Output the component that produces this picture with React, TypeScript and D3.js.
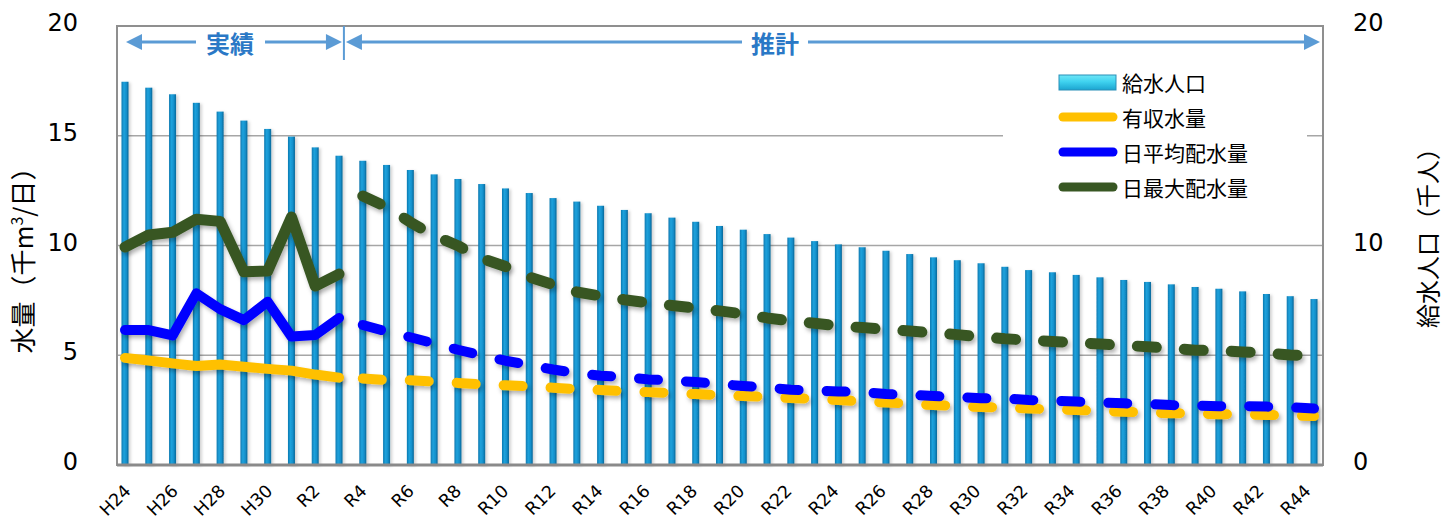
import React from "react";
import * as d3 from "d3";

const categories = [
  "H24","H25","H26","H27","H28","H29","H30","R1","R2","R3",
  "R4","R5","R6","R7","R8","R9","R10","R11","R12","R13",
  "R14","R15","R16","R17","R18","R19","R20","R21","R22","R23",
  "R24","R25","R26","R27","R28","R29","R30","R31","R32","R33",
  "R34","R35","R36","R37","R38","R39","R40","R41","R42","R43","R44",
];
const actualCount = 10;
const tickLabels = [
  "H24","H26","H28","H30","R2","R4","R6","R8","R10","R12","R14","R16","R18",
  "R20","R22","R24","R26","R28","R30","R32","R34","R36","R38","R40","R42","R44",
];

// 給水人口 (千人)
const population = [
  17.46, 17.19, 16.89, 16.5, 16.1, 15.69, 15.31, 14.96, 14.47, 14.09,
  13.86, 13.67, 13.44, 13.24, 13.03, 12.8, 12.6, 12.39, 12.16, 12.0,
  11.81, 11.62, 11.47, 11.27, 11.08, 10.89, 10.72, 10.52, 10.36, 10.2,
  10.05, 9.92, 9.76, 9.61, 9.46, 9.33, 9.19, 9.03, 8.88, 8.78,
  8.66, 8.55, 8.43, 8.34, 8.23, 8.11, 8.03, 7.91, 7.79, 7.69, 7.56,
];
// 有収水量
const revenueWater = [
  4.88, 4.76, 4.63, 4.51, 4.58, 4.48, 4.38, 4.3, 4.12, 3.98,
  3.94, 3.87, 3.86, 3.8, 3.74, 3.67, 3.63, 3.58, 3.52, 3.46,
  3.42, 3.36, 3.32, 3.28, 3.23, 3.19, 3.14, 3.1, 3.05, 3.02,
  2.96, 2.89, 2.85, 2.79, 2.73, 2.69, 2.64, 2.63, 2.57, 2.54,
  2.51, 2.46, 2.43, 2.39, 2.36, 2.35, 2.31, 2.31, 2.28, 2.26, 2.23,
];
// 日平均配水量
const avgDistribution = [
  6.15, 6.15, 5.9, 7.82, 7.1, 6.6, 7.44, 5.85, 5.92, 6.7,
  6.38, 6.08, 5.82, 5.54, 5.25, 4.99, 4.75, 4.56, 4.35, 4.18,
  4.07, 4.01, 3.9, 3.85, 3.78, 3.69, 3.6, 3.53, 3.43, 3.39,
  3.35, 3.33, 3.23, 3.2, 3.14, 3.1, 3.04, 3.03, 2.96, 2.93,
  2.89, 2.85, 2.81, 2.78, 2.73, 2.71, 2.68, 2.69, 2.66, 2.63, 2.57,
];
// 日最大配水量
const maxDistribution = [
  9.93, 10.48, 10.6, 11.2, 11.1, 8.8, 8.84, 11.3, 8.15, 8.7,
  12.25, 11.76, 11.06, 10.45, 9.99, 9.41, 9.04, 8.56, 8.22, 7.88,
  7.7, 7.53, 7.39, 7.27, 7.15, 7.02, 6.88, 6.7, 6.56, 6.46,
  6.34, 6.26, 6.18, 6.1, 6.02, 5.94, 5.84, 5.75, 5.69, 5.63,
  5.58, 5.51, 5.45, 5.39, 5.32, 5.23, 5.21, 5.15, 5.1, 5.01, 4.97,
];

const leftTicks = [0, 5, 10, 15, 20];
const rightTicks = [0, 10, 20];
const gridTicks = [5, 10, 15];

const W = 1453;
const H = 523;
const plot = { left: 117, right: 1323, top: 26, bottom: 465 };

const JP = "'Noto Sans CJK JP', 'Noto Sans', sans-serif";
const NUM = "'DejaVu Sans', Verdana, sans-serif";

const lineSeries = [
  { name: "有収水量", values: revenueWater, color: "#FFC000", width: 10 },
  { name: "日平均配水量", values: avgDistribution, color: "#0000FF", width: 10 },
  { name: "日最大配水量", values: maxDistribution, color: "#385723", width: 11 },
];

export default function App() {
  const x = d3.scalePoint<string>().domain(categories).range([125, 1314]);
  const xLabel = d3.scalePoint<string>().domain(categories).range([132, 1312]);
  const y = d3.scaleLinear().domain([0, 20]).range([plot.bottom, plot.top]);
  const yR = d3.scaleLinear().domain([0, 20]).range([plot.bottom, plot.top]);

  const splitPaths = (vals: number[]) => {
    const idx = vals.map((_, i) => i);
    const lineI = d3
      .line<number>()
      .x((i) => x(categories[i]) as number)
      .y((i) => y(vals[i]));
    return {
      actual: lineI(idx.slice(0, actualCount)) || "",
      estimate: lineI(idx.slice(actualCount)) || "",
    };
  };

  const barW = 7;
  const dividerX = ((x(categories[actualCount - 1]) as number) + (x(categories[actualCount]) as number)) / 2 - 7;
  const arrowY = 42;
  const arrowColor = "#5B9BD5";
  const labelColor = "#2A78C6";
  const actualLeft = (x(categories[0]) as number) + 1;
  const estRight = plot.right - 3;

  const legendX = 1059;
  const legendRows = [82, 117, 152, 187];

  const arrowHead = (tipX: number, dir: number) => {
    const len = 16;
    const half = 8;
    return `M${tipX},${arrowY} L${tipX - dir * len},${arrowY - half} L${tipX - dir * len},${arrowY + half} Z`;
  };

  return (
    <svg
      width={W}
      height={H}
      style={{ position: "absolute", left: 0, top: 0, background: "#fff" }}
      xmlns="http://www.w3.org/2000/svg"
    >
      <defs>
        <linearGradient id="barGrad" x1="0" x2="1" y1="0" y2="0">
          <stop offset="0%" stopColor="#0c78b0" />
          <stop offset="35%" stopColor="#1fa2dc" />
          <stop offset="70%" stopColor="#138fcb" />
          <stop offset="100%" stopColor="#0a6696" />
        </linearGradient>
        <linearGradient id="legBar" x1="0" x2="0" y1="0" y2="1">
          <stop offset="0%" stopColor="#6fe6f7" />
          <stop offset="45%" stopColor="#3fd2ef" />
          <stop offset="100%" stopColor="#1ba4d0" />
        </linearGradient>
        <filter id="shadow" x="-10%" y="-20%" width="130%" height="160%">
          <feDropShadow dx="2" dy="3" stdDeviation="2" floodColor="#000" floodOpacity="0.3" />
        </filter>
        <filter id="barShadow" x="-50%" y="-5%" width="250%" height="110%">
          <feDropShadow dx="2" dy="1" stdDeviation="1.5" floodColor="#000" floodOpacity="0.18" />
        </filter>
      </defs>

      {/* grid lines */}
      {gridTicks.map((t) => (
        <line
          key={"g" + t}
          x1={plot.left}
          x2={plot.right}
          y1={y(t)}
          y2={y(t)}
          stroke="#a6a6a6"
          strokeWidth={1.5}
        />
      ))}

      {/* bars */}
      <g filter="url(#barShadow)">
        {population.map((v, i) => (
          <rect
            key={"b" + i}
            x={(x(categories[i]) as number) - barW / 2}
            y={y(v)}
            width={barW}
            height={y(0) - y(v)}
            fill="url(#barGrad)"
          />
        ))}
      </g>

      {/* lines */}
      <g filter="url(#shadow)">
        {lineSeries.map((s) => {
          const p = splitPaths(s.values);
          return (
            <g key={s.name}>
              <path
                d={p.actual}
                fill="none"
                stroke={s.color}
                strokeWidth={s.width}
                strokeLinejoin="round"
                strokeLinecap="round"
              />
              <path
                d={p.estimate}
                fill="none"
                stroke={s.color}
                strokeWidth={s.width}
                strokeLinejoin="round"
                strokeLinecap="round"
                strokeDasharray="19 28"
              />
            </g>
          );
        })}
      </g>

      {/* plot frame */}
      <rect
        x={plot.left}
        y={plot.top}
        width={plot.right - plot.left}
        height={plot.bottom - plot.top}
        fill="none"
        stroke="#8f8f8f"
        strokeWidth={2}
      />
      <line x1={plot.left} x2={plot.right} y1={plot.bottom} y2={plot.bottom} stroke="#8a8a8a" strokeWidth={3} />

      {/* legend */}
      <rect x={1003} y={60} width={304} height={146} fill="#fff" />
      <rect
        x={legendX}
        y={legendRows[0] - 7}
        width={57}
        height={15}
        fill="url(#legBar)"
        stroke="#2a8fb8"
        strokeWidth={1}
      />
      {lineSeries.map((s, i) => (
        <line
          key={"l" + s.name}
          x1={legendX + 4}
          x2={legendX + 58 - 4}
          y1={legendRows[i + 1]}
          y2={legendRows[i + 1]}
          stroke={s.color}
          strokeWidth={9}
          strokeLinecap="round"
        />
      ))}
      {["給水人口", ...lineSeries.map((s) => s.name)].map((t, i) => (
        <text
          key={"lt" + t}
          x={1122}
          y={legendRows[i]}
          dominantBaseline="central"
          fontFamily={JP}
          fontSize={21}
          fill="#000"
        >
          {t}
        </text>
      ))}

      {/* left axis tick labels */}
      {leftTicks.map((t) => (
        <text
          key={"lt" + t}
          x={78}
          y={y(t) - 3}
          textAnchor="end"
          dominantBaseline="central"
          fontFamily={NUM}
          fontSize={24}
          fill="#000"
        >
          {t}
        </text>
      ))}
      {/* right axis tick labels */}
      {rightTicks.map((t) => (
        <text
          key={"rt" + t}
          x={1353}
          y={yR(t) - 3}
          textAnchor="start"
          dominantBaseline="central"
          fontFamily={NUM}
          fontSize={24}
          fill="#000"
        >
          {t}
        </text>
      ))}

      {/* x labels */}
      {tickLabels.map((t) => {
        const cx = xLabel(t) as number;
        return (
          <text
            key={"x" + t}
            transform={`translate(${cx},${492}) rotate(-45)`}
            textAnchor="end"
            fontFamily={NUM}
            fontSize={17.5}
            fill="#000"
          >
            {t}
          </text>
        );
      })}

      {/* axis titles */}
      <text
        transform={`translate(${33},${254}) rotate(-90)`}
        textAnchor="middle"
        fontFamily={JP}
        fontSize={26}
        fill="#000"
      >
        水量（千m<tspan fontSize={16} dy={-10}>3</tspan>
        <tspan dy={10}>/日）</tspan>
      </text>
      <text
        transform={`translate(${1437},${232}) rotate(-90)`}
        textAnchor="middle"
        fontFamily={JP}
        fontSize={24}
        fill="#000"
      >
        給水人口（千人）
      </text>

      {/* period annotations */}
      <line x1={actualLeft + 10} x2={196} y1={arrowY} y2={arrowY} stroke={arrowColor} strokeWidth={3} />
      <line x1={265} x2={dividerX - 10} y1={arrowY} y2={arrowY} stroke={arrowColor} strokeWidth={3} />
      <path d={arrowHead(actualLeft, -1)} fill={arrowColor} />
      <path d={arrowHead(dividerX - 2, 1)} fill={arrowColor} />
      <line x1={dividerX} x2={dividerX} y1={plot.top} y2={60} stroke={arrowColor} strokeWidth={2} />
      <path d={arrowHead(dividerX + 2, -1)} fill={arrowColor} />
      <line x1={dividerX + 12} x2={742} y1={arrowY} y2={arrowY} stroke={arrowColor} strokeWidth={3} />
      <line x1={808} x2={estRight - 10} y1={arrowY} y2={arrowY} stroke={arrowColor} strokeWidth={3} />
      <path d={arrowHead(estRight, 1)} fill={arrowColor} />
      <text
        x={230}
        y={arrowY}
        textAnchor="middle"
        dominantBaseline="central"
        fontFamily={JP}
        fontWeight="bold"
        fontSize={24}
        fill={labelColor}
      >
        実績
      </text>
      <text
        x={775}
        y={arrowY}
        textAnchor="middle"
        dominantBaseline="central"
        fontFamily={JP}
        fontWeight="bold"
        fontSize={24}
        fill={labelColor}
      >
        推計
      </text>
    </svg>
  );
}
